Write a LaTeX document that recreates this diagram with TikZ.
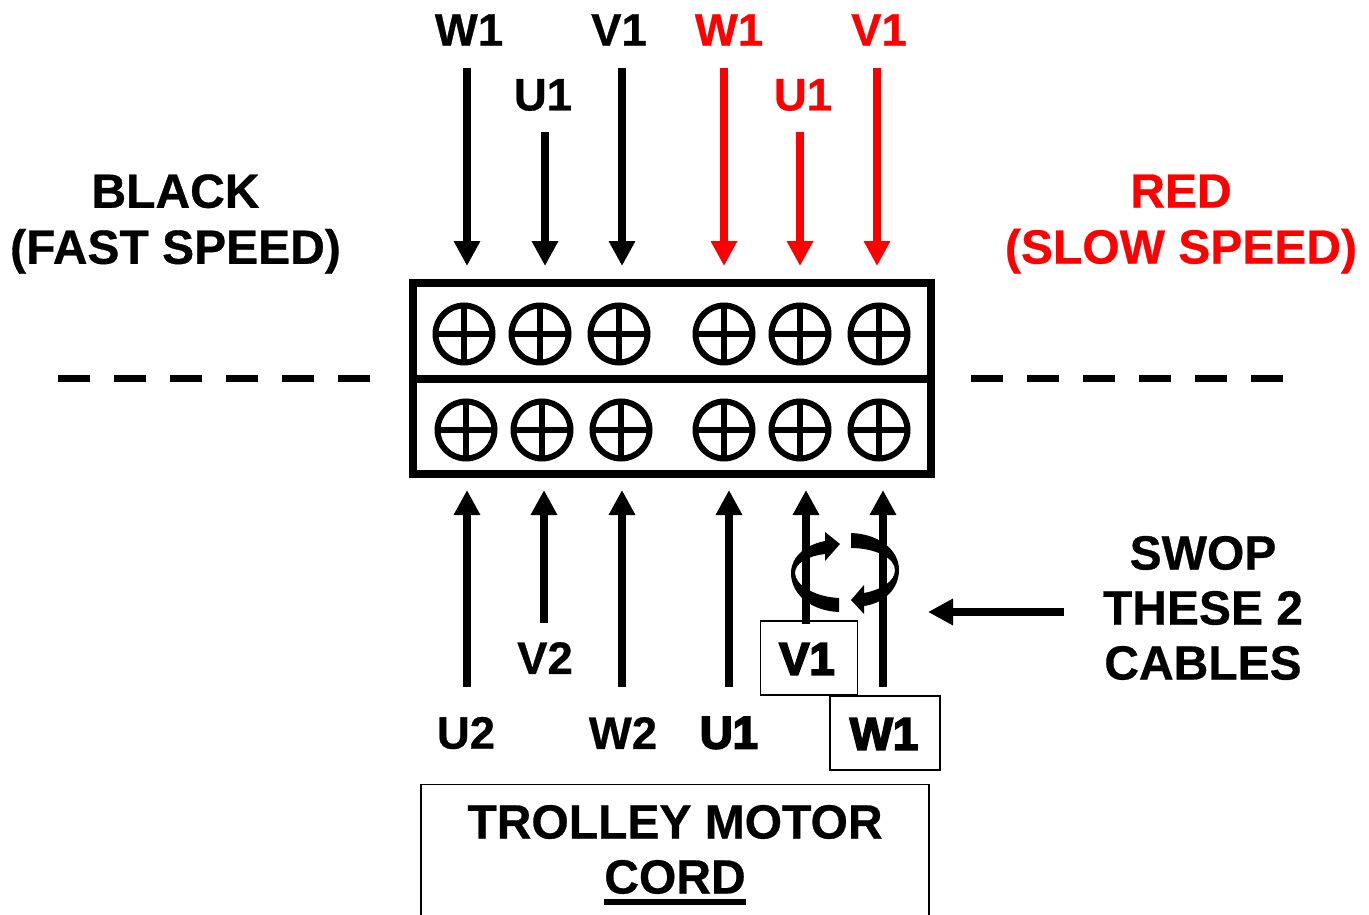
\documentclass[tikz,border=0pt]{standalone}
\usepackage{fontspec}
\setmainfont{Liberation Sans}[BoldFeatures={FakeBold=0.6}]
\newfontfamily\heavyf{Liberation Sans Bold}[FakeBold=4]
\usetikzlibrary{arrows.meta}
\definecolor{myred}{RGB}{255,0,0}
\tikzset{
 x=1pt,y=-1pt,
 lab/.style={font=\fontsize{48}{56}\selectfont\bfseries,inner sep=0pt,align=center},
 swoplab/.style={font=\fontsize{48}{55}\selectfont\bfseries,inner sep=0pt,align=center},
 slab/.style={font=\fontsize{45.5}{54}\selectfont\bfseries,inner sep=0pt,align=center},
 hlab/.style={font=\fontsize{45.5}{54}\selectfont\heavyf,inner sep=0pt,align=center},
 wire/.style={line width=7.2pt,-{Triangle[length=25pt,width=25pt]}},
 frame/.style={draw=black,line width=8pt},
 screw/.style={circle,draw=black,line width=6pt,minimum size=57pt,inner sep=0pt,
   path picture={\draw[line width=6.5pt] (path picture bounding box.north)--(path picture bounding box.south)
     (path picture bounding box.west)--(path picture bounding box.east);}},
 thinbox/.style={draw=black,line width=1.4pt,inner sep=0pt},
 dashline/.style={line width=7.2pt,dash pattern=on 32pt off 24pt},
}
\newcommand{\wirearrow}[5][black]{%
 \coordinate (#2s) at (#3,#4); \coordinate (#2e) at (#3,#5);
 \draw[wire,draw=#1,fill=#1,#1] (#2s) -- (#2e);}
\begin{document}
\begin{tikzpicture}
\useasboundingbox (0,0) rectangle (1369,915);
% top labels
\node[slab] (tw1) at (469,30) {W1};
\node[slab] (tu1) at (543,95) {U1};
\node[slab] (tv1) at (619,30) {V1};
\node[slab,text=myred] (trw1) at (729,30) {W1};
\node[slab,text=myred] (tru1) at (803,95) {U1};
\node[slab,text=myred] (trv1) at (879,30) {V1};
\node[lab] (black) at (175.5,224) {BLACK\\(FAST SPEED)};
\node[lab,text=myred] (red) at (1181,224) {RED\\(SLOW SPEED)};
% arrows top
\wirearrow{a}{467}{68}{266}
\wirearrow{b}{545}{132}{266}
\wirearrow{c}{622}{68}{266}
\wirearrow[myred]{d}{724}{68}{266}
\wirearrow[myred]{e}{800}{132}{266}
\wirearrow[myred]{f}{877}{68}{266}
% terminal block
\node[frame,minimum width=518pt,minimum height=191pt,inner sep=0pt] (block) at (672,378.5) {};
\draw[line width=8pt] (block.west) -- (block.east);
\foreach \n/\x/\y in {s1/464/334,s2/540/334,s3/619/334,s4/724/334,s5/800/334,s6/879/334,
                      t1/466/430,t2/542/430,t3/621/430,t4/724/430,t5/800/430,t6/879/430}
  \node[screw] (\n) at (\x,\y) {};
% dashes
\coordinate (dl1) at (58,378.5); \coordinate (dl2) at (372,378.5);
\coordinate (dr1) at (971,378.5); \coordinate (dr2) at (1285,378.5);
\draw[dashline] (dl1) -- (dl2);
\draw[dashline] (dr1) -- (dr2);
% bottom arrows
\wirearrow{g}{467}{687}{490}
\wirearrow{h}{544}{623}{490}
\wirearrow{i}{622}{687}{490}
\wirearrow{j}{729}{687}{490}
\wirearrow{k}{806}{623}{490}
\wirearrow{l}{883}{687}{490}
% bottom labels
\node[slab] (v2) at (545,658) {V2};
\node[slab] (u2) at (466,733) {U2};
\node[slab] (w2) at (623,733) {W2};
\node[hlab] (u1) at (729,733) {U1};
\node[thinbox,minimum width=97pt,minimum height=74pt,fill=white] (v1box) at (809,658) {};
\node[thinbox,minimum width=110pt,minimum height=74pt,fill=white] (w1box) at (885,733) {};
\draw[line width=7.2pt] (806,624) -- (806,600);
\node[hlab] (v1) at (807,659) {V1};
\node[hlab] (w1) at (884,734) {W1};
\node[swoplab] (swop) at (1203,608) {SWOP\\THESE 2\\CABLES};
\coordinate (sw) at (1064,612); \coordinate (swe) at (928,612);
\draw[wire] (sw) -- (swe);
% swap arcs
\fill (825,541) .. controls (805,545) and (791,557) .. (791,573) .. controls (791,595) and (812,611) .. (839,612)
  -- (839,598) .. controls (815,597) and (795,585) .. (795,573) .. controls (795,563) and (808,556) .. (825,554) -- cycle;
\fill (851,533) .. controls (878,534) and (899,549) .. (899,570) .. controls (899,588) and (885,603) .. (864,606)
  -- (864,593) .. controls (880,590) and (895,582) .. (895,570) .. controls (895,558) and (875,548) .. (851,548) -- cycle;
\fill (840,544) -- (825,532) -- (825,561) -- cycle;
\fill (851,600) -- (864,585) -- (864,614) -- cycle;
% motor cord
\node[thinbox,minimum width=508pt,minimum height=160pt,anchor=north] (cord) at (675,784) {};
\node[lab] (cordt) at (675,822) {TROLLEY MOTOR};
\node[lab] (cordu) at (675,877) {CORD};
\draw[line width=6pt] (cordu.south west |- 0,902) -- (cordu.south east |- 0,902);
\end{tikzpicture}
\end{document}
